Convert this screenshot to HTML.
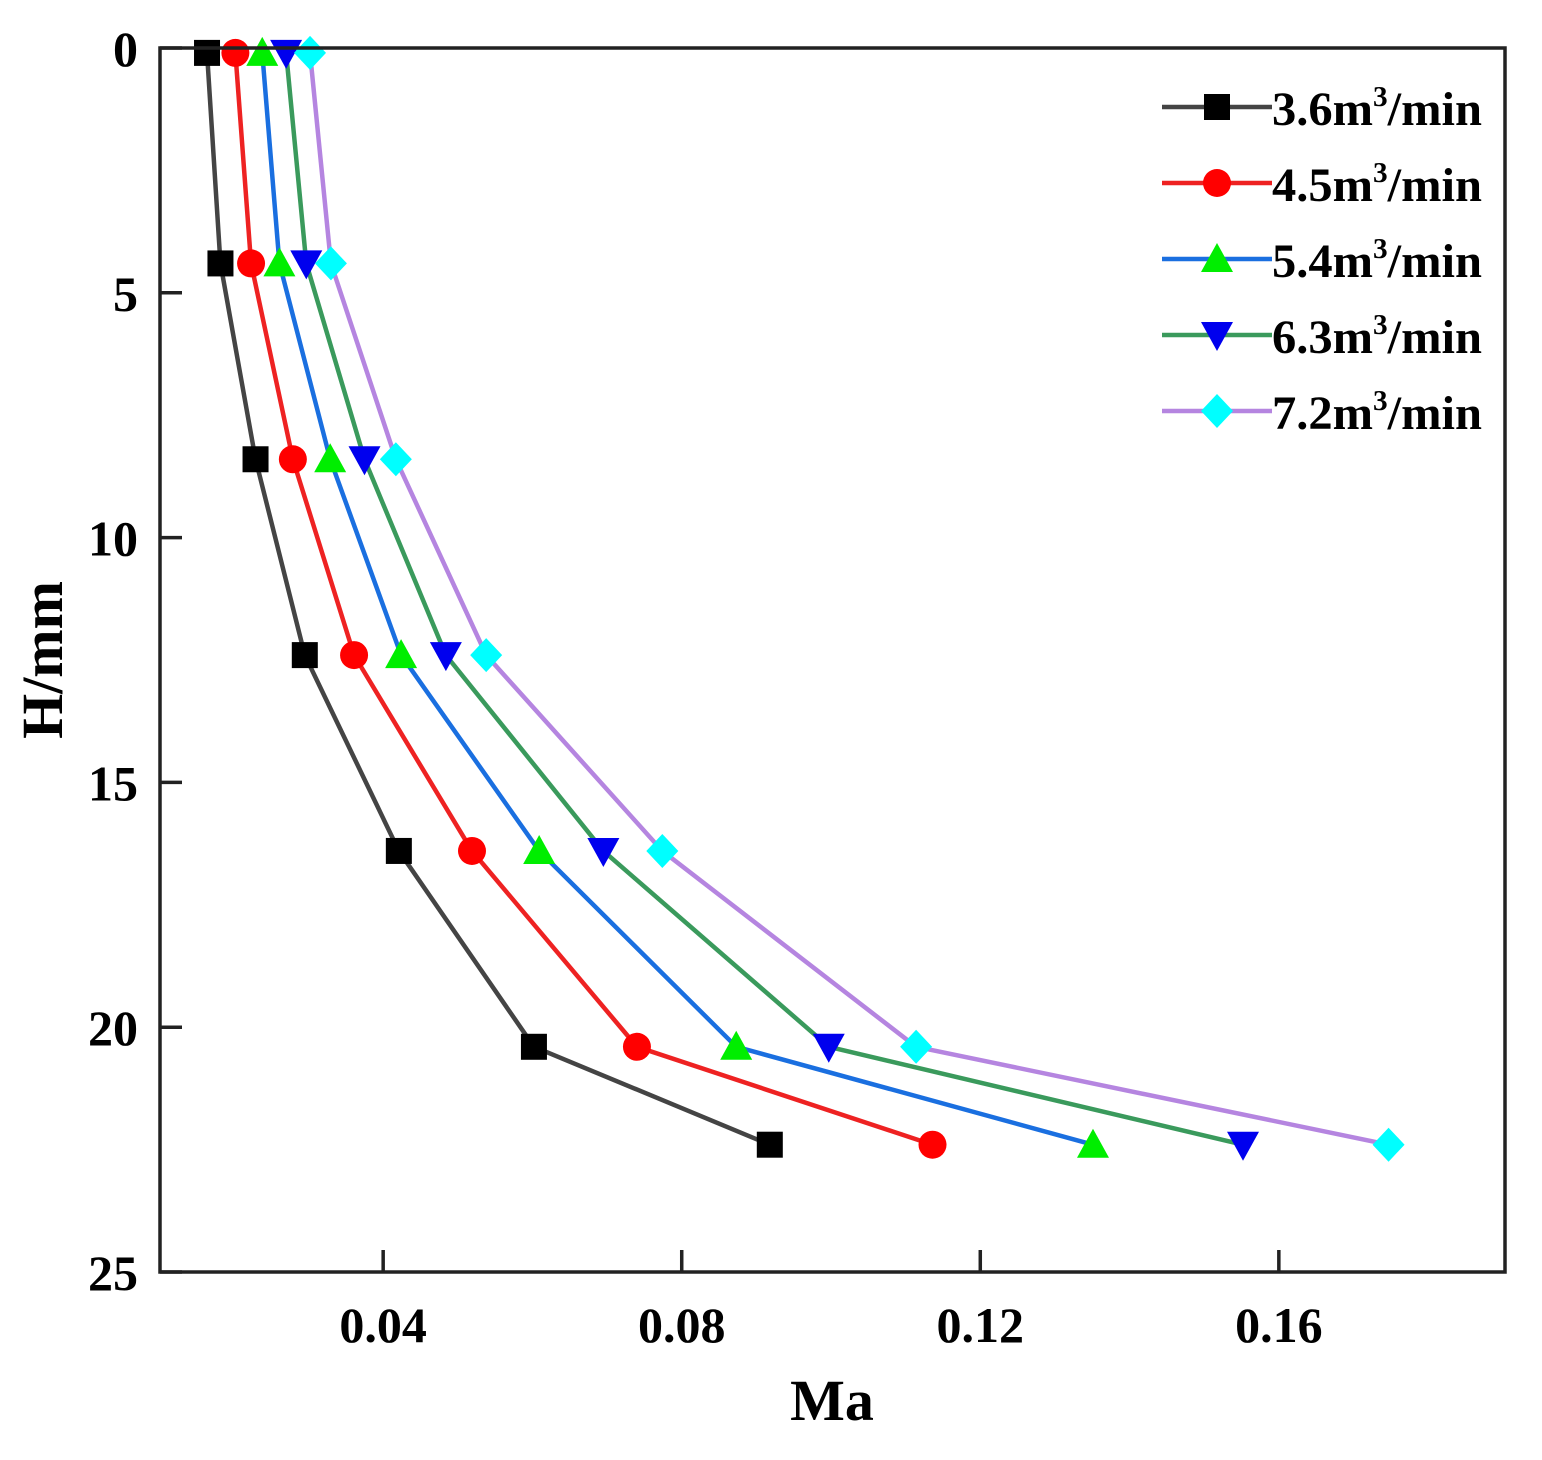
<!DOCTYPE html>
<html><head><meta charset="utf-8"><style>
body{margin:0;background:#fff}
svg text{font-family:"Liberation Serif",serif;font-weight:bold;fill:#000}
</style></head><body>
<svg width="1542" height="1455" id="c"></svg>
<script>
const H = [0.1, 4.4, 8.4, 12.4, 16.4, 20.4, 22.4];
const seriesNames = ["3.6","4.5","5.4","6.3","7.2"];
const s36 = [0.0164,0.0182,0.0229,0.0295,0.0421,0.0602,0.0918];
const s45 = [0.0202,0.0223,0.0279,0.0361,0.0519,0.0740,0.1136];
const s54 = [0.0238,0.0261,0.0329,0.0424,0.0609,0.0873,0.1351];
const s63 = [0.0270,0.0297,0.0375,0.0484,0.0695,0.0997,0.1552];
const s72 = [0.0302,0.0330,0.0417,0.0538,0.0774,0.1114,0.1747];
const xTicks = [0.04,0.08,0.12,0.16];
const yTicks = [0,5,10,15,20,25];

const L=160,R=1505,T=48,B=1272;
const xMin=0.0101,xMax=0.1903;
const X=v=>L+(v-xMin)/(xMax-xMin)*(R-L);
const Y=v=>T+v/25*(B-T);
const NS="http://www.w3.org/2000/svg";
const svg=document.getElementById('c');
function mk(t,a,p){const e=document.createElementNS(NS,t);for(const k in a)e.setAttribute(k,a[k]);(p||svg).appendChild(e);return e;}

const styles=[
 {line:"#444444",fill:"#000000",m:"square"},
 {line:"#ee2222",fill:"#ff0000",m:"circle"},
 {line:"#1a6fe0",fill:"#00ee00",m:"up"},
 {line:"#3a9a5c",fill:"#0000ee",m:"down"},
 {line:"#b585e0",fill:"#00ffff",m:"diamond"}];
const data=[s36,s45,s54,s63,s72];

function marker(type,x,y,fill,name){
 let e;
 if(type==="square")e=mk("rect",{x:x-13,y:y-13,width:26,height:26,fill});
 else if(type==="circle")e=mk("circle",{cx:x,cy:y,r:14,fill});
 else if(type==="up")e=mk("polygon",{points:`${x},${y-16} ${x-16},${y+13} ${x+16},${y+13}`,fill});
 else if(type==="down")e=mk("polygon",{points:`${x},${y+16} ${x-16},${y-13} ${x+16},${y-13}`,fill});
 else e=mk("polygon",{points:`${x},${y-17} ${x+16},${y} ${x},${y+17} ${x-16},${y}`,fill});
 
 
 return e;
}

const clip=mk("clipPath",{id:"cp"});mk("rect",{x:L,y:T-20,width:R-L,height:B-T+20},clip);
data.forEach((s,i)=>{
 const g=mk("g",{"clip-path":"url(#cp)"});
 
 
 const pl=mk("polyline",{points:s.map((v,j)=>X(v)+","+Y(H[j])).join(" "),fill:"none",stroke:styles[i].line,"stroke-width":4.5},g);
 
 
 s.forEach((v,j)=>{const m=marker(styles[i].m,X(v),Y(H[j]),styles[i].fill,'point');g.appendChild(m);});
});

// frame
const fr=mk("rect",{x:L,y:T,width:R-L,height:B-T,fill:"none",stroke:"#222","stroke-width":3.5});

xTicks.forEach(t=>{
 const tk=mk("line",{x1:X(t),x2:X(t),y1:B,y2:B-22,stroke:"#222","stroke-width":3.5});
 
 const tx=mk("text",{x:X(t),y:B+70,"text-anchor":"middle","font-size":50});tx.textContent=t.toFixed(2);
 
});
yTicks.forEach(t=>{
 const tk=mk("line",{x1:L,x2:L+22,y1:Y(t),y2:Y(t),stroke:"#222","stroke-width":3.5});
 
 const tx=mk("text",{x:138,y:Y(t)+18,"text-anchor":"end","font-size":50});tx.textContent=t;
 
});
const xt=mk("text",{x:832,y:1420,"text-anchor":"middle","font-size":58});xt.textContent="Ma";

const yt=mk("text",{x:0,y:0,"text-anchor":"middle","font-size":58,transform:"translate(62,660) rotate(-90)"});yt.textContent="H/mm";


// legend
seriesNames.forEach((n,i)=>{
 const y=107+i*76;
 const g=mk("g",{});
 
 mk("line",{x1:1162,x2:1272,y1:y,y2:y,stroke:styles[i].line,"stroke-width":4.5},g);
 g.appendChild(marker(styles[i].m,1217,y,styles[i].fill,'legend-marker'));
 const t=mk("text",{x:1272,y:y+18,"font-size":48,textLength:210,lengthAdjust:"spacingAndGlyphs"},g);
 t.innerHTML=n+"m<tspan dy='-19' font-size='29'>3</tspan><tspan dy='19'>/min</tspan>";
});
</script>
</body></html>
